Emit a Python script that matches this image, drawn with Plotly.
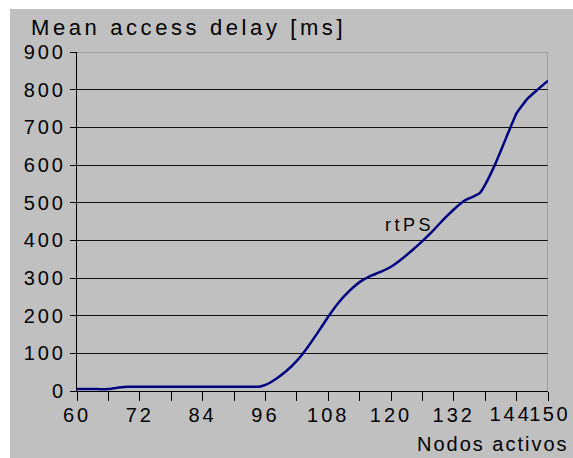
import plotly.graph_objects as go

# Mean access delay (ms) versus number of active nodes, rtPS service class
nodos = [60, 62, 64, 66, 68, 70, 72, 76, 80, 84, 88, 92, 94, 95, 96, 98, 100,
         102, 104, 106, 108, 110, 112, 114, 116, 118, 120, 122, 124, 126, 128,
         130, 132, 134, 136, 137, 138, 140, 142, 144, 146, 148, 150]
delay_ms = [5, 5, 5, 5, 9, 11, 11, 11, 11, 11, 11, 11, 11, 12, 16, 32, 53,
            80, 115, 155, 197, 235, 265, 289, 305, 316, 330, 350, 373, 398, 425,
            455, 482, 505, 518, 526, 548, 605, 672, 738, 775, 800, 824]

x_tick_vals = list(range(60, 151, 6))
x_tick_text = ["60", "", "72", "", "84", "", "96", "", "108", "", "120", "",
               "132", "", "", ""]
y_tick_vals = list(range(0, 901, 100))
series_name = "rtPS"

W, H = 573, 458
L, R, T, B = 77, 25, 52, 67
pw, ph = W - L - R, H - T - B


def px_x(p):
    return (p - L) / pw


def px_y(p):
    return (H - B - p) / ph


FONT = "Liberation Sans, Arial, sans-serif"
GRAY = "#C0C0C0"

fig = go.Figure()
fig.add_trace(go.Scatter(
    x=nodos, y=delay_ms, mode="lines", name=series_name,
    line=dict(color="#000080", width=2.5, shape="spline", smoothing=0.3),
    showlegend=False, hoverinfo="skip",
))

fig.update_layout(
    width=W, height=H,
    margin=dict(l=L, r=R, t=T, b=B, pad=0),
    paper_bgcolor="white",
    plot_bgcolor=GRAY,
    font=dict(family=FONT, size=20, color="black"),
    title=dict(text="Mean access delay [ms]", xref="container", yref="container",
               x=31 / W, xanchor="left", y=1 - 27 / H, yanchor="middle",
               font=dict(family=FONT, size=22, color="black")),
    xaxis=dict(range=[60, 150], tickmode="array", tickvals=x_tick_vals,
               ticktext=x_tick_text, ticks="outside", ticklen=9, tickcolor="black",
               tickwidth=1, showline=True, linecolor="black", linewidth=1,
               showgrid=False, zeroline=False, fixedrange=True,
               ticklabelstandoff=-3,
               tickfont=dict(family=FONT, size=20, color="black")),
    yaxis=dict(range=[0, 900], tickmode="array", tickvals=y_tick_vals,
               ticks="outside", ticklen=6, tickcolor="black", tickwidth=1,
               showline=True, linecolor="black", linewidth=1,
               showgrid=True, gridcolor="#111111", gridwidth=1,
               zeroline=False, fixedrange=True,
               tickfont=dict(family=FONT, size=20, color="black")),
    shapes=[
        # grey chart panel behind everything
        dict(type="rect", xref="paper", yref="paper", x0=px_x(10), x1=1.2,
             y0=-0.5, y1=px_y(9), fillcolor=GRAY, line=dict(width=0),
             layer="below"),
        # plot-area frame: top and right edges in grey
        dict(type="line", xref="x", yref="y", x0=60, x1=150, y0=900, y1=900,
             line=dict(color="#808080", width=1), layer="between"),
        dict(type="line", xref="x", yref="y", x0=150, x1=150, y0=0, y1=900,
             line=dict(color="#808080", width=1), layer="between"),
    ],
    annotations=[
        dict(text="144", xref="paper", yref="paper", x=px_x(510), y=px_y(414),
             xanchor="center", yanchor="middle", showarrow=False,
             font=dict(family=FONT, size=20, color="black")),
        dict(text="150", xref="paper", yref="paper", x=px_x(549), y=px_y(414),
             xanchor="center", yanchor="middle", showarrow=False,
             font=dict(family=FONT, size=20, color="black")),
        dict(text="Nodos activos", xref="paper", yref="paper", x=px_x(493),
             y=px_y(444), xanchor="center", yanchor="middle", showarrow=False,
             font=dict(family=FONT, size=20, color="black")),
        dict(text=series_name, xref="x", yref="y", x=123.5, y=441,
             xanchor="center", yanchor="middle", showarrow=False,
             font=dict(family=FONT, size=18, color="black")),
    ],
)

# wide character spacing for all chart text
spacing_js = """
var gd = document.getElementById('{plot_id}');
function sp(sel, v) {
  gd.querySelectorAll(sel).forEach(function (t) { t.style.letterSpacing = v; });
}
sp('.gtitle', '3.6px');
sp('.xtick text', '3px');
sp('.ytick text', '3px');
sp('.annotation text', '3px');
sp('.annotation[data-index="1"] text', '2.5px');
sp('.annotation[data-index="2"] text', '2px');
sp('.annotation[data-index="3"] text', '3.5px');
"""

fig.write_html("out.html", post_script=spacing_js)
